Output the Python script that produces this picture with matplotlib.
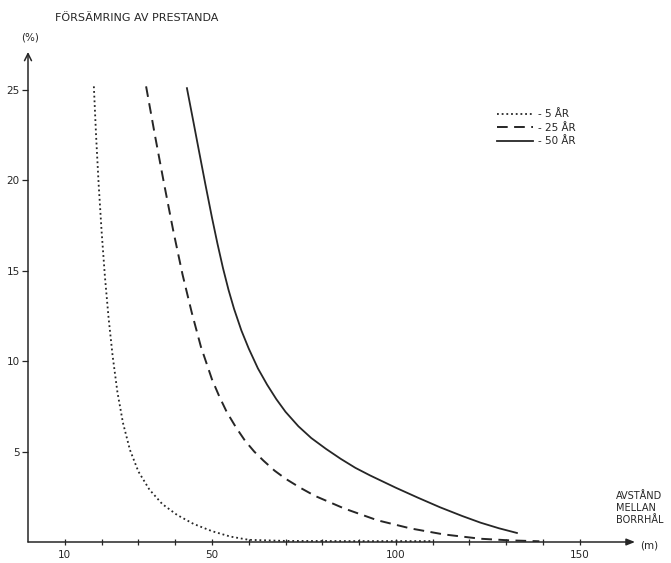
import matplotlib.pyplot as plt

# distance between boreholes (m) vs. performance loss (%)
x_5 = [17.9, 18.5, 19.2, 20.0, 20.9, 21.9, 23.0, 24.3, 25.8, 27.7, 30.0, 33.0, 36.5,
       40.5, 45.0, 50.0, 55.0, 60.0, 70.0, 90.0, 110.0]
y_5 = [25.2, 22.5, 19.8, 17.2, 14.7, 12.4, 10.3, 8.3, 6.6, 5.1, 3.9, 2.9, 2.1,
       1.5, 1.0, 0.6, 0.3, 0.12, 0.06, 0.05, 0.05]

x_25 = [32.1, 34.5, 37.0, 39.5, 42.0, 44.5, 47.0, 50.0, 52.0, 54.0, 56.5, 59.0, 61.5,
        64.0, 67.0, 70.0, 74.0, 78.0, 86.0, 95.0, 104.0, 113.0, 123.0, 131.0, 139.0]
y_25 = [25.2, 22.5, 19.8, 17.2, 14.8, 12.7, 10.8, 9.0, 8.05, 7.2, 6.35, 5.6, 5.0,
        4.5, 3.95, 3.5, 3.0, 2.55, 1.85, 1.2, 0.75, 0.42, 0.18, 0.09, 0.04]

x_50 = [43.2, 45.0, 46.5, 48.2, 50.0, 51.5, 53.0, 54.5, 56.0, 58.0, 60.0, 62.5, 65.0,
        67.5, 70.0, 73.5, 77.0, 81.0, 85.0, 89.0, 93.0, 100.0, 106.0, 112.0, 118.0,
        123.0, 128.0, 132.9]
y_50 = [25.1, 23.2, 21.6, 19.8, 17.95, 16.5, 15.15, 13.95, 12.9, 11.7, 10.7, 9.6, 8.7,
        7.9, 7.2, 6.4, 5.75, 5.15, 4.6, 4.1, 3.68, 3.0, 2.45, 1.92, 1.44,
        1.07, 0.76, 0.5]

labels = ['- 5 ÅR', '- 25 ÅR', '- 50 ÅR']
x_ticks = [10, 20, 30, 40, 50, 60, 70, 80, 90, 100, 110, 120, 130, 140, 150]
x_ticklabels = ['10', '', '', '', '50', '', '', '', '', '100', '', '', '', '', '150']
y_ticks = [5, 10, 15, 20, 25]

W, H = 671, 563
ink = '#262626'
plt.rcParams['font.family'] = ['DejaVu Sans']

fig = plt.figure(figsize=(W / 100, H / 100), dpi=100)
ax = fig.add_axes([28 / W, 21 / H, 607 / W, 490 / H])
ax.set_xlim(0, 165)
ax.set_ylim(0, 27.1)

l1, = ax.plot(x_5, y_5, color=ink, lw=1.3, linestyle=(0, (1, 1.6)))
l2, = ax.plot(x_25, y_25, color=ink, lw=1.4, linestyle=(0, (5.5, 3.3)))
l3, = ax.plot(x_50, y_50, color=ink, lw=1.3)

for s in ax.spines.values():
    s.set_visible(False)

# axes drawn as arrows
ax.annotate('', xy=(1, 0), xytext=(0, 0), xycoords='axes fraction',
            arrowprops=dict(arrowstyle='-|>,head_length=0.5,head_width=0.2', color=ink, lw=1.1,
                            shrinkA=0, shrinkB=0))
ax.annotate('', xy=(0, 1), xytext=(0, 0), xycoords='axes fraction',
            arrowprops=dict(arrowstyle='->,head_length=0.5,head_width=0.25', color=ink, lw=1.1,
                            shrinkA=0, shrinkB=0))

ax.set_xticks(x_ticks)
ax.set_xticklabels(x_ticklabels)
ax.set_yticks(y_ticks)
ax.tick_params(axis='x', direction='inout', length=5, width=0.9, color=ink, labelsize=7.5,
               labelcolor=ink, pad=3)
ax.tick_params(axis='y', direction='out', length=4, width=0.9, color=ink, labelsize=7.5,
               labelcolor=ink, pad=2)

fig.text(55 / W, 1 - 18 / H, 'FÖRSÄMRING AV PRESTANDA', fontsize=8, color=ink, va='center')
fig.text(30 / W, 1 - 38 / H, '(%)', fontsize=7.5, color=ink, ha='center', va='center')
fig.text(616 / W, 1 - 508 / H, 'AVSTÅND\nMELLAN\nBORRHÅL', fontsize=7, color=ink,
         va='center', linespacing=1.2)
fig.text(640 / W, 1 - 546 / H, '(m)', fontsize=7.5, color=ink, va='center')

ax.legend([l1, l2, l3], labels, loc='upper left', bbox_to_anchor=(492 / W, 1 - 104 / H),
          bbox_transform=fig.transFigure, frameon=False, fontsize=7.5, handlelength=3.4,
          handletextpad=0.5, labelspacing=0.35, borderpad=0, labelcolor=ink)

fig.savefig('out.png', dpi=100)
